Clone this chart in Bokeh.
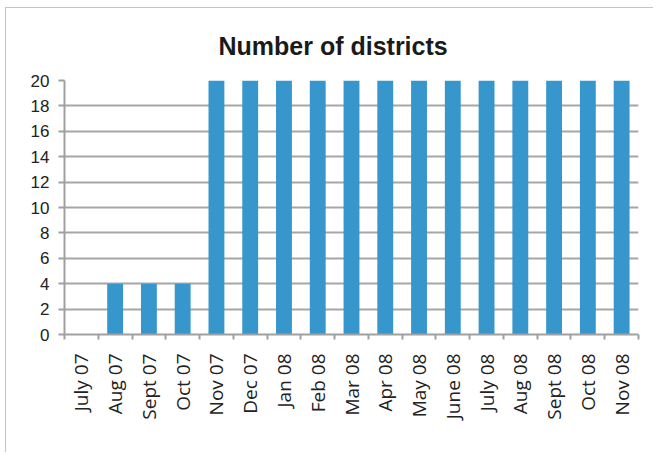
from bokeh.plotting import figure
from bokeh.models import FixedTicker, Title, ColumnDataSource
from bokeh.embed import file_html
from bokeh.resources import INLINE
import math

months = ["July 07", "Aug 07", "Sept 07", "Oct 07", "Nov 07", "Dec 07", "Jan 08", "Feb 08",
          "Mar 08", "Apr 08", "May 08", "June 08", "July 08", "Aug 08", "Sept 08", "Oct 08", "Nov 08"]
districts = [0, 4, 4, 4, 20, 20, 20, 20, 20, 20, 20, 20, 20, 20, 20, 20, 20]
y_ticks = [0, 2, 4, 6, 8, 10, 12, 14, 16, 18, 20]
title_text = "Number of districts"

centers = [i + 0.5 for i in range(len(months))]
src = ColumnDataSource(dict(x=centers, top=districts, label=months))

p = figure(width=648, height=445, x_range=(0, len(months)), y_range=(0, 20),
           output_backend="svg", toolbar_location=None,
           min_border_left=58, min_border_right=16, min_border_top=72, min_border_bottom=119,
           styles={"margin-left": "5px", "margin-top": "7px",
                   "border-left": "1px solid #c4c4c4", "border-top": "1px solid #c4c4c4"})
p.outline_line_color = None
p.background_fill_color = "white"
p.border_fill_color = "white"

p.vbar(x="x", top="top", width=0.47, source=src, fill_color="#3796cb", line_color=None)

p.title = Title(text=title_text, align="left", offset=154, vertical_align="bottom",
                text_font="Liberation Sans", text_font_size="25px", text_font_style="bold",
                text_color="#1a1a1a", standoff=42)

# x axis
xa = p.xaxis[0]
xa.ticker = FixedTicker(ticks=centers, minor_ticks=list(range(len(months) + 1)))
xa.major_label_overrides = {c: m for c, m in zip(centers, months)}
xa.major_tick_line_color = None
xa.minor_tick_line_color = "#a0a0a0"
xa.minor_tick_line_width = 2
xa.minor_tick_in = 0
xa.minor_tick_out = 5
xa.axis_line_color = "#a0a0a0"
xa.axis_line_width = 2
xa.major_label_orientation = math.pi / 2
xa.major_label_text_font = "Open Sans"
xa.major_label_text_font_size = "19px"
xa.major_label_text_color = "#222222"
xa.major_label_standoff = 13

# y axis
ya = p.yaxis[0]
ya.ticker = FixedTicker(ticks=y_ticks)
ya.minor_tick_line_color = None
ya.major_tick_line_color = "#a0a0a0"
ya.major_tick_line_width = 2
ya.major_tick_in = 0
ya.major_tick_out = 6
ya.axis_line_color = "#a0a0a0"
ya.axis_line_width = 2
ya.major_label_text_font = "Liberation Sans"
ya.major_label_text_font_size = "17px"
ya.major_label_text_color = "#222222"
ya.major_label_standoff = 9

p.xgrid.grid_line_color = None
p.ygrid.ticker = FixedTicker(ticks=y_ticks)
p.ygrid.grid_line_color = "#a6a6a6"
p.ygrid.grid_line_width = 2

open("out.html", "w").write(file_html(p, INLINE))
